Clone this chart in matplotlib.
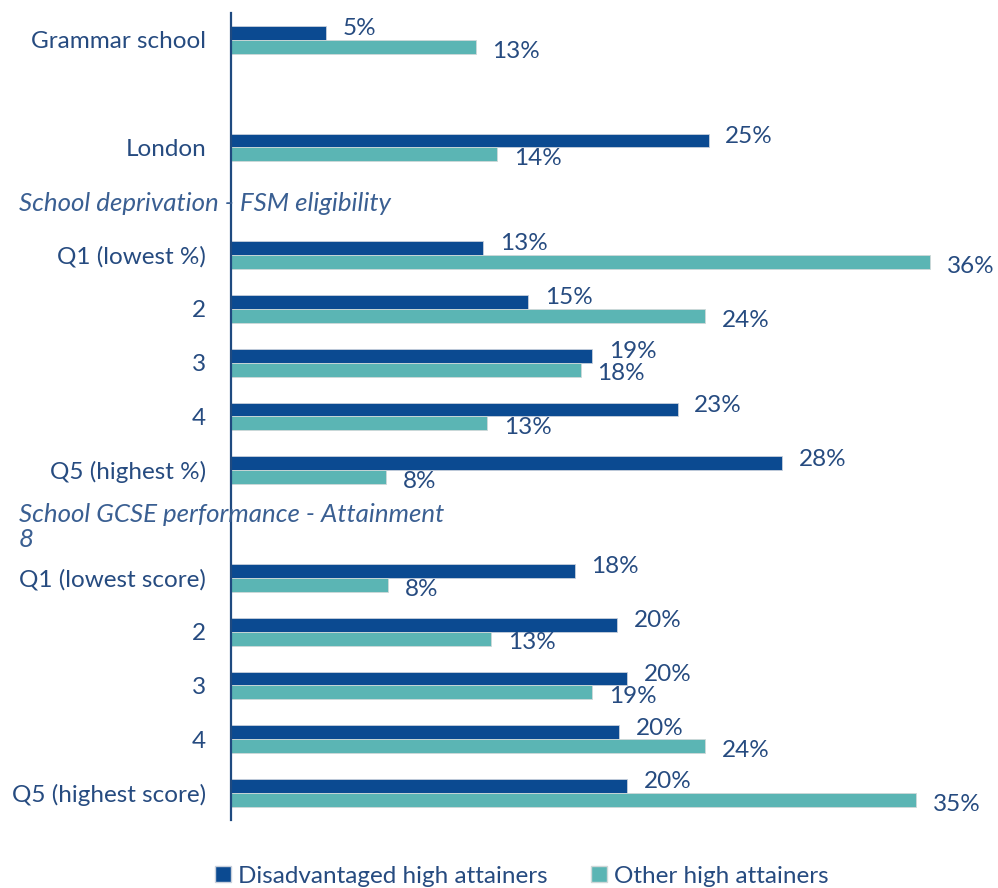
import numpy as np
import matplotlib

matplotlib.use("Agg")
import matplotlib.pyplot as plt
from matplotlib.patches import Patch
from matplotlib.transforms import blended_transform_factory

# Colours.
DARK = "#0b4a91"
TEAL = "#5bb5b4"
TEXT = "#264b80"
HEAD = "#3a5f92"

FONT = "Lato"
FS = 17.5

nan = np.nan

# Rows top -> bottom (blank row and section headers carry no bars).
categories = [
    "Grammar school", "", "London",
    "School deprivation - FSM eligibility",
    "Q1 (lowest %)", "2", "3", "4", "Q5 (highest %)",
    "School GCSE performance - Attainment\n8",
    "Q1 (lowest score)", "2", "3", "4", "Q5 (highest score)",
]
section_headers = [
    "School deprivation - FSM eligibility",
    "School GCSE performance - Attainment\n8",
]
disadvantaged = [4.9, nan, 24.6, nan, 13.0, 15.3, 18.6, 23.0, 28.4,
                 nan, 17.7, 19.9, 20.4, 20.0, 20.4]
other = [12.6, nan, 13.7, nan, 36.0, 24.4, 18.0, 13.2, 8.0,
         nan, 8.1, 13.4, 18.6, 24.4, 35.3]
series_names = ["Disadvantaged high attainers", "Other high attainers"]

fig = plt.figure(figsize=(9.98, 8.88), dpi=100)
ax = fig.add_axes([231 / 998, 1 - 820 / 888, 1 - 231 / 998, (820 - 13) / 888])

y = np.arange(len(categories))
h = 0.26
ax.barh(y - h / 2, disadvantaged, height=h, color=DARK, edgecolor="#c8d0dc", linewidth=0.6)
ax.barh(y + h / 2, other, height=h, color=TEAL, edgecolor="#cfd8d8", linewidth=0.6)

ax.set_xlim(0, 39.5)
ax.set_ylim(len(categories) - 0.5, -0.5)

# Value labels: dark nudged up, teal nudged down, as in the reference.
for yi, d, o in zip(y, disadvantaged, other):
    if not np.isnan(d):
        ax.annotate(f"{d:.0f}%", (d, yi - h / 2), xytext=(12, 3), textcoords="offset points",
                    ha="left", va="center", fontsize=FS, color=TEXT, family=FONT)
    if not np.isnan(o):
        ax.annotate(f"{o:.0f}%", (o, yi + h / 2), xytext=(12, -3), textcoords="offset points",
                    ha="left", va="center", fontsize=FS, color=TEXT, family=FONT)

# Category labels (headers drawn separately in italics).
ticks = [i for i, c in enumerate(categories) if c not in section_headers]
ax.set_yticks(ticks)
ax.set_yticklabels([categories[i] for i in ticks], fontsize=FS, color=TEXT, family=FONT)
ax.tick_params(axis="y", length=0, pad=18)
ax.set_xticks([])

trans = blended_transform_factory(fig.transFigure, ax.transData)
for i, c in enumerate(categories):
    if c in section_headers:
        ax.text(19 / 998, i + 0.05, c, transform=trans, ha="left", va="center",
                fontsize=FS * 1.065, color=HEAD, style="italic", family=FONT,
                linespacing=1.1, clip_on=False)

for s in ["top", "right", "bottom"]:
    ax.spines[s].set_visible(False)
ax.spines["left"].set_color("#1f4a80")
ax.spines["left"].set_linewidth(1.6)

handles = [Patch(facecolor=DARK, edgecolor="#c8d0dc"), Patch(facecolor=TEAL, edgecolor="#cfd8d8")]
fig.legend(handles, series_names, loc="center", bbox_to_anchor=(0.523, 1 - 876 / 888),
           ncol=2, frameon=False, handlelength=0.65, handleheight=0.65, handletextpad=0.3,
           columnspacing=1.8, prop={"family": FONT, "size": FS}, labelcolor=TEXT)

fig.savefig("out.png", dpi=100, facecolor="white")
